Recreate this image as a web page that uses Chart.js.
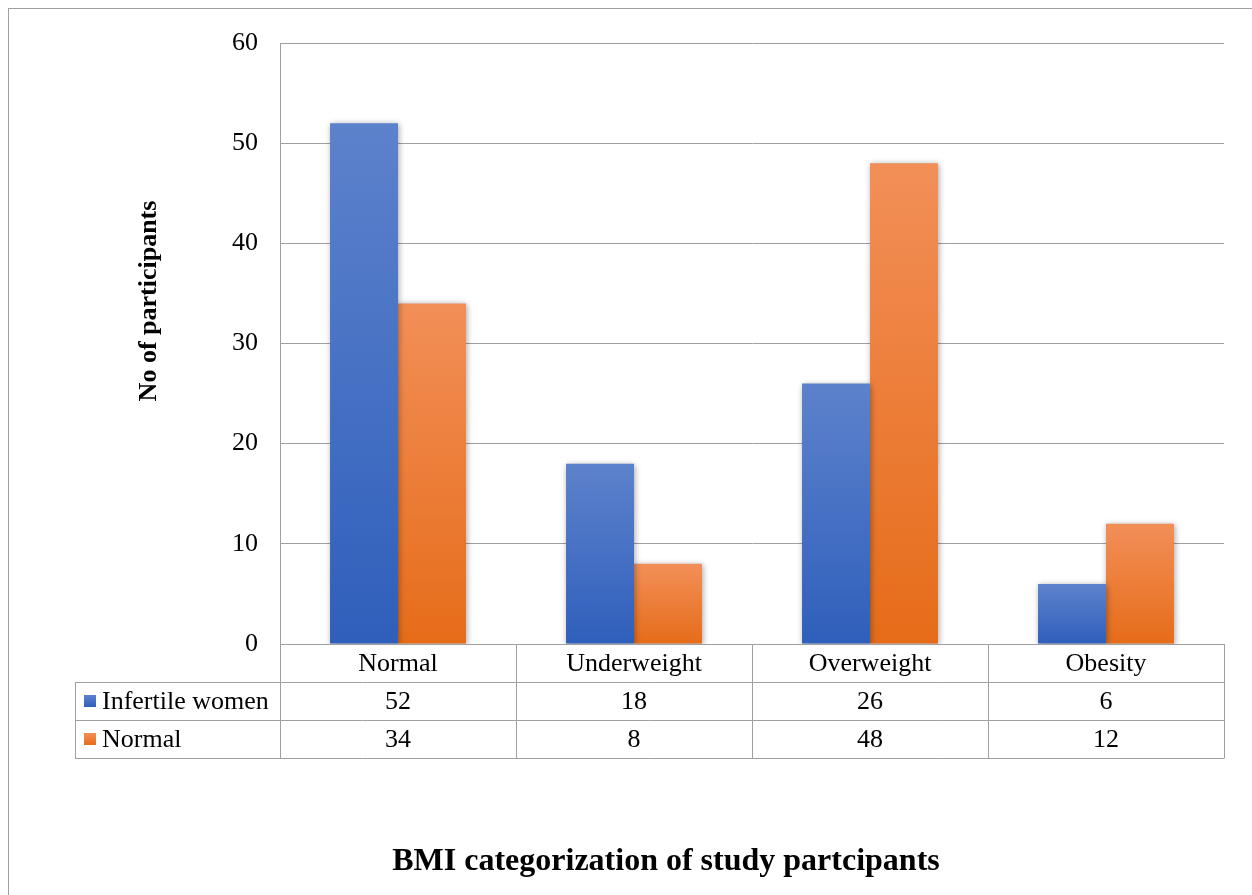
<!DOCTYPE html>
<html>
<head>
<meta charset="utf-8">
<script src="https://cdn.jsdelivr.net/npm/chart.js@4.4.1/dist/chart.umd.min.js"></script>
<style>
  html, body { margin: 0; padding: 0; background: #fff; }
  #wrap { width: 1252px; height: 895px; }
</style>
</head>
<body>
<div id="wrap"><canvas id="bmiChart" width="1252" height="895"></canvas></div>
<script>
// data
const categories = ["Normal", "Underweight", "Overweight", "Obesity"];
const infertileWomen = [52, 18, 26, 6];
const normalWomen = [34, 8, 48, 12];
const seriesNames = ["Infertile women", "Normal"];

const FONT = "'Liberation Serif', 'Times New Roman', serif";
const GRID = "#a0a0a0";
const blueStops = ["#5d82cc", "#2f5fbb"];
const orangeStops = ["#f28f58", "#e66c19"];

// gradient per bar, lighter at the top
function barGradient(stops) {
  return (c) => {
    const chart = c.chart;
    if (!chart.chartArea || c.raw === undefined) return stops[1];
    const y = chart.scales.y;
    const top = y.getPixelForValue(c.raw);
    const bottom = y.getPixelForValue(0);
    if (bottom - top < 1) return stops[1];
    const g = chart.ctx.createLinearGradient(0, top, 0, bottom);
    g.addColorStop(0, stops[0]);
    g.addColorStop(1, stops[1]);
    return g;
  };
}

const shadowPlugin = {
  id: "barShadow",
  beforeDatasetsDraw(chart) {
    const ctx = chart.ctx;
    ctx.save();
    ctx.shadowColor = "rgba(0,0,0,0.35)";
    ctx.shadowBlur = 6;
    ctx.shadowOffsetX = 1;
    ctx.shadowOffsetY = 1;
  },
  afterDatasetsDraw(chart) {
    chart.ctx.restore();
  }
};

// data table under the plot, plus titles and outer frame
const tablePlugin = {
  id: "dataTable",
  afterDraw(chart) {
    const ctx = chart.ctx;
    const area = chart.chartArea;
    const x = chart.scales.x;
    const rowH = 38;
    const tableLeft = 75;
    const top = area.bottom;
    const colW = (area.right - area.left) / categories.length;

    ctx.save();
    // outer frame
    ctx.strokeStyle = GRID;
    ctx.lineWidth = 1;
    ctx.strokeRect(8.5, 8.5, 1300, 1000);

    // table lines
    ctx.beginPath();
    for (let i = 0; i <= categories.length; i++) {
      const lx = Math.round(area.left + i * colW) + 0.5;
      ctx.moveTo(lx, top);
      ctx.lineTo(lx, top + rowH * 3);
    }
    ctx.moveTo(tableLeft + 0.5, top + rowH);
    ctx.lineTo(tableLeft + 0.5, top + rowH * 3);
    for (let r = 1; r <= 3; r++) {
      const ly = Math.round(top + rowH * r) + 0.5;
      ctx.moveTo(tableLeft, ly);
      ctx.lineTo(area.right + 0.5, ly);
    }
    ctx.stroke();

    // text
    ctx.fillStyle = "#000";
    ctx.font = "26px " + FONT;
    ctx.textAlign = "center";
    ctx.textBaseline = "middle";
    const rows = [infertileWomen, normalWomen];
    categories.forEach((cat, i) => {
      const cx = x.getPixelForValue(i);
      ctx.fillText(cat, cx, top + rowH / 2 + 1);
      rows.forEach((vals, r) => {
        ctx.fillText(String(vals[i]), cx, top + rowH * (r + 1) + rowH / 2 + 1);
      });
    });

    // legend keys in the row headers
    const keys = [blueStops, orangeStops];
    seriesNames.forEach((name, r) => {
      const cy = top + rowH * (r + 1) + rowH / 2;
      const g = ctx.createLinearGradient(0, cy - 6, 0, cy + 6);
      g.addColorStop(0, keys[r][0]);
      g.addColorStop(1, keys[r][1]);
      ctx.fillStyle = g;
      ctx.fillRect(84, cy - 6, 12, 12);
      ctx.fillStyle = "#000";
      ctx.textAlign = "left";
      ctx.fillText(name, 102, cy + 1);
    });

    // axis titles
    ctx.font = "bold 26px " + FONT;
    ctx.textAlign = "center";
    ctx.save();
    ctx.translate(149, 301);
    ctx.rotate(-Math.PI / 2);
    ctx.fillText("No of participants", 0, 0);
    ctx.restore();

    ctx.font = "bold 32px " + FONT;
    ctx.fillText("BMI categorization of study partcipants", 666, 862);
    ctx.restore();
  }
};

new Chart(document.getElementById("bmiChart"), {
  type: "bar",
  data: {
    labels: categories,
    datasets: [
      {
        label: seriesNames[0],
        data: infertileWomen,
        backgroundColor: barGradient(blueStops),
        borderWidth: 0
      },
      {
        label: seriesNames[1],
        data: normalWomen,
        backgroundColor: barGradient(orangeStops),
        borderWidth: 0
      }
    ]
  },
  options: {
    responsive: false,
    animation: false,
    events: [],
    layout: { padding: { left: 0, right: 28, top: 43, bottom: 251 } },
    datasets: {
      bar: { categoryPercentage: 0.576, barPercentage: 1.0 }
    },
    scales: {
      x: { display: false },
      y: {
        min: 0,
        max: 60,
        ticks: {
          stepSize: 10,
          padding: 22,
          color: "#000",
          font: { family: FONT, size: 26 }
        },
        grid: { color: GRID, drawTicks: false },
        border: { display: true, color: GRID },
        afterFit(scale) { scale.width = 280; }
      }
    },
    plugins: {
      legend: { display: false },
      tooltip: { enabled: false }
    }
  },
  plugins: [shadowPlugin, tablePlugin]
});
</script>
</body>
</html>
